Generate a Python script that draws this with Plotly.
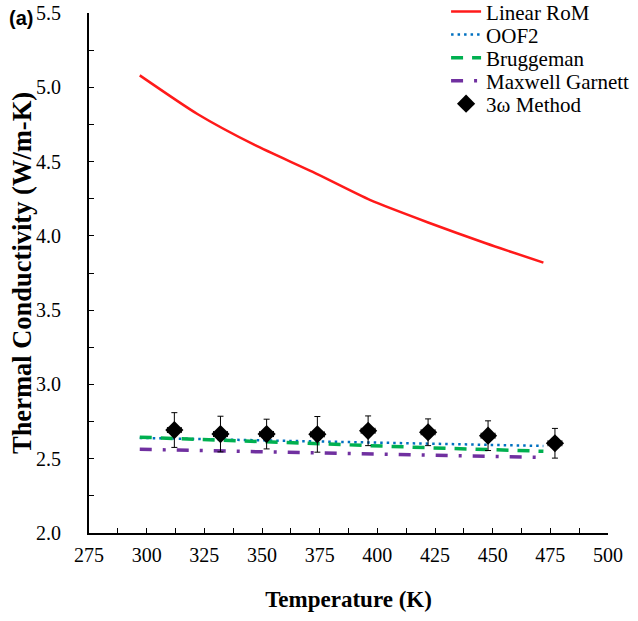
import plotly.graph_objects as go

# Model curves (temperature in K, conductivity in W/m-K)
T_model = [297, 322, 347, 372, 397, 422, 447, 472]
linear_rom = [5.08, 4.82, 4.61, 4.43, 4.24, 4.09, 3.95, 3.82]
oof2 = [2.640, 2.632, 2.624, 2.616, 2.608, 2.600, 2.593, 2.586]
bruggeman = [2.645, 2.632, 2.618, 2.603, 2.588, 2.574, 2.561, 2.550]
maxwell_garnett = [2.563, 2.556, 2.547, 2.540, 2.532, 2.524, 2.516, 2.508]

# 3-omega measurements
T_exp = [312, 332, 352, 374, 396, 422, 448, 477]
k_exp = [2.693, 2.666, 2.666, 2.664, 2.688, 2.678, 2.655, 2.604]
k_err = [0.117, 0.12, 0.10, 0.12, 0.10, 0.09, 0.10, 0.10]
T_err = [3, 3, 3, 3, 3, 3, 3, 3]

serif = "Liberation Serif, Times New Roman, serif"

fig = go.Figure()
fig.add_trace(go.Scatter(x=T_model, y=linear_rom, mode="lines", name="Linear RoM",
                         line=dict(color="#ff1a1a", width=2.5, shape="spline", smoothing=0.6),
                         legend="legend"))
fig.add_trace(go.Scatter(x=T_model, y=oof2, mode="lines", name="OOF2",
                         line=dict(color="#0070c0", width=2.5, dash="2.5px,4px"),
                         legend="legend2"))
fig.add_trace(go.Scatter(x=T_model, y=bruggeman, mode="lines", name="Bruggeman",
                         line=dict(color="#00b050", width=3.5, dash="12px,9px"),
                         legend="legend3"))
fig.add_trace(go.Scatter(x=T_model, y=maxwell_garnett, mode="lines", name="Maxwell Garnett",
                         line=dict(color="#7030a0", width=3.5, dash="12px,11px,3px,11px"),
                         legend="legend4"))
fig.add_trace(go.Scatter(x=T_exp, y=k_exp, mode="markers", name="3ω Method",
                         marker=dict(symbol="diamond", size=14, color="black"),
                         error_y=dict(type="data", array=k_err, color="black", thickness=1, width=3),
                         error_x=dict(type="data", array=T_err, color="black", thickness=1, width=3),
                         legend="legend5"))

axis_common = dict(
    showgrid=False, zeroline=False, showline=True, linecolor="black", linewidth=1.8,
    ticks="inside", ticklen=5, tickwidth=1.2, tickcolor="black",
    tickfont=dict(family=serif, size=20, color="black"),
    automargin=False, ticklabeloverflow="allow",
)

legend_font = dict(family=serif, size=21, color="black")
legend_x = 0.688
legend_rows_y = [1.002, 0.958, 0.9135, 0.869, 0.825]
legend_common = dict(x=legend_x, xanchor="left", yanchor="middle", font=legend_font,
                     bgcolor="rgba(0,0,0,0)", itemwidth=30, borderwidth=0)

fig.update_layout(
    width=638, height=621,
    margin=dict(l=89, r=30, t=13, b=88, autoexpand=False),
    paper_bgcolor="white", plot_bgcolor="white",
    showlegend=True,
    legend=dict(y=legend_rows_y[0], **legend_common),
    legend2=dict(y=legend_rows_y[1], **legend_common),
    legend3=dict(y=legend_rows_y[2], **legend_common),
    legend4=dict(y=legend_rows_y[3], **legend_common),
    legend5=dict(y=legend_rows_y[4], **legend_common),
    xaxis=dict(range=[275, 500], tick0=275, dtick=25, ticklabelstandoff=3,
               minor=dict(ticks="inside", ticklen=5, tickwidth=1.2, tickcolor="black", dtick=12.5, tick0=275),
               title=dict(text="<b>Temperature (K)</b>", font=dict(family=serif, size=23, color="black"), standoff=26),
               **axis_common),
    yaxis=dict(range=[2, 5.5], tick0=2, dtick=0.5, tickformat=".1f",
               minor=dict(ticks="inside", ticklen=5, tickwidth=1.2, tickcolor="black", dtick=0.25, tick0=2),
               ticklabelstandoff=22,
               **axis_common),
    annotations=[
        dict(text="<b>(a)</b>", xref="paper", yref="paper", x=-0.158, y=0.99,
             xanchor="left", yanchor="middle", showarrow=False,
             font=dict(family="Liberation Sans, Arial, sans-serif", size=20, color="black")),
        dict(text="<b>Thermal Conductivity (W/m-K)</b>", xref="paper", yref="paper", x=-0.129, y=0.5,
             xanchor="center", yanchor="middle", textangle=-90, showarrow=False,
             font=dict(family=serif, size=26.5, color="black")),
    ],
)

fig.write_html("out.html", config={"displayModeBar": False},
               post_script="document.body.style.margin='0';")
